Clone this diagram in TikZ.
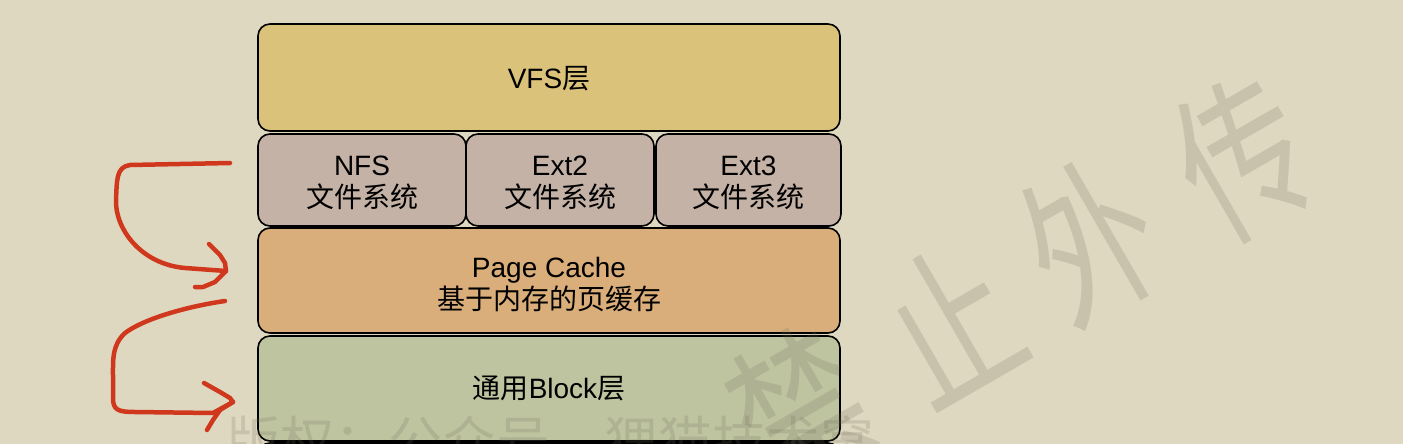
\documentclass[tikz,border=0pt]{standalone}
\usepackage{fontspec}
\setmainfont{Liberation Sans}
\newfontfamily\cjk{Noto Sans CJK SC}
\definecolor{bgc}{RGB}{223,216,192}
\definecolor{vfsc}{RGB}{219,194,122}
\definecolor{fsc}{RGB}{197,178,166}
\definecolor{pcc}{RGB}{218,174,122}
\definecolor{blkc}{RGB}{191,196,160}
\definecolor{redc}{RGB}{208,56,30}
\definecolor{wmc}{RGB}{110,105,90}
\begin{document}
\begin{tikzpicture}[x=1pt,y=-1pt,
  layer/.style={draw=black, line width=1.6pt, rounded corners=12pt, inner sep=0pt},
  txt/.style={inner sep=0pt, font=\fontsize{28}{32.5}\selectfont, align=center},
  redline/.style={draw=redc, line width=4.5pt, line cap=round, line join=round},
  wmark/.style={text=wmc, text opacity=0.2, inner sep=0pt, transform shape,
    font=\cjk\fontsize{168}{168}\selectfont},
  foot/.style={text=wmc, text opacity=0.2, inner sep=0pt, anchor=base west,
    font=\cjk\fontsize{54}{54}\selectfont}]
\useasboundingbox (0,0) rectangle (1403,444);
\fill[bgc] (0,0) rectangle (1403,444);

\node[layer, fill=vfsc, minimum width=582pt, minimum height=107pt] (vfs) at (549,77.5) {};
\node[layer, fill=fsc, minimum width=208pt, minimum height=92pt] (nfs) at (362,180) {};
\node[layer, fill=fsc, minimum width=188pt, minimum height=92pt] (ext2) at (560,180) {};
\node[layer, fill=fsc, minimum width=185pt, minimum height=92pt] (ext3) at (748.5,180) {};
\node[layer, fill=pcc, minimum width=582pt, minimum height=105pt] (pc) at (549,280.5) {};
\node[layer, fill=blkc, minimum width=582pt, minimum height=105pt] (blk) at (549,388.5) {};
\begin{scope}
\clip (0,0) rectangle (1403,444);
\node[layer, fill=blkc, minimum width=582pt, minimum height=105pt] (nextbox) at (549,495.5) {};
\end{scope}

\node[txt] (vfst) at ([yshift=-1pt]vfs.center) {VFS{\cjk 层}};
\node[txt] (nfst) at ([yshift=-3pt]nfs.center) {NFS\\{\cjk 文件系统}};
\node[txt] (ext2t) at ([yshift=-3pt]ext2.center) {Ext2\\{\cjk 文件系统}};
\node[txt] (ext3t) at ([yshift=-3pt]ext3.center) {Ext3\\{\cjk 文件系统}};
\node[txt] (pct) at ([yshift=-4pt]pc.center) {Page Cache\\{\cjk 基于内存的页缓存}};
\node[txt] (blkt) at (blk.center) {{\cjk 通用}Block{\cjk 层}};

% red hand-drawn arrows
\coordinate (a1s) at (230,163);
\coordinate (a1e) at (226,271);
\draw[redline] (a1s) -- (130,165) .. controls (116,167) and (117,180) .. (116,200)
  .. controls (115,228) and (140,264) .. (185,268) -- (a1e);
\draw[redline] (209,244) -- (220,255) -- (225,263) -- (a1e) -- (215,282) -- (203,287) -- (195,287);

\coordinate (a2s) at (225,301);
\coordinate (a2e) at (233,402);
\draw[redline] (a2s) .. controls (190,306) and (145,318) .. (125,333)
  .. controls (112,345) and (113,360) .. (113,375) -- (113,398)
  .. controls (113,410) and (118,412) .. (135,412) -- (213,413) -- (a2e);
\draw[redline] (204,383) -- (220,392) -- (230,398) -- (a2e) -- (220,410) -- (213,420) -- (207,430);

% watermarks
\begin{scope}[shift={(800,410)}, rotate=30, xscale=0.74]
\node[wmark] (wm1) at (0,0) {禁};
\end{scope}
\begin{scope}[shift={(949,323)}, rotate=30, xscale=0.74]
\node[wmark] (wm2) at (0,0) {止};
\end{scope}
\begin{scope}[shift={(1090,241)}, rotate=30, xscale=0.74]
\node[wmark] (wm3) at (0,0) {外};
\end{scope}
\begin{scope}[shift={(1243,157)}, rotate=30, xscale=0.74]
\node[wmark] (wm4) at (0,0) {传};
\end{scope}
\node[foot] (copy) at (226,461) {版权：公众号　狸猫技术窝};
\end{tikzpicture}
\end{document}
